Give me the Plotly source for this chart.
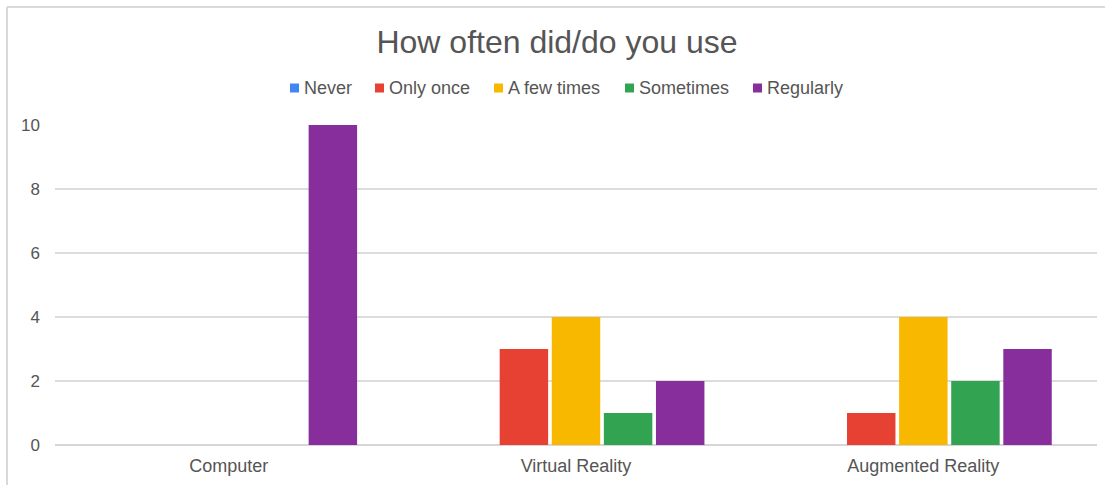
import plotly.graph_objects as go

# Usage frequency counts per technology
categories = ["Computer", "Virtual Reality", "Augmented Reality"]
never = [0, 0, 0]
only_once = [0, 3, 1]
a_few_times = [0, 4, 4]
sometimes = [0, 1, 2]
regularly = [10, 2, 3]

series_names = ["Never", "Only once", "A few times", "Sometimes", "Regularly"]
series_values = [never, only_once, a_few_times, sometimes, regularly]
series_colors = ["#4285F4", "#E64133", "#F9B800", "#32A350", "#872E9C"]

y_ticks = [0, 2, 4, 6, 8, 10]

FONT = "Arial, Liberation Sans, sans-serif"

fig = go.Figure()
for name, vals, color in zip(series_names, series_values, series_colors):
    fig.add_trace(go.Bar(
        x=categories, y=vals, name=name,
        marker=dict(color=color, line=dict(width=0)),
        showlegend=False,
    ))

W, H = 1105, 485
ml, mr, mt, mb = 55, 8, 125, 40
pw, ph = W - ml - mr, H - mt - mb

def px_x(x):
    return (x - ml) / pw

def px_y(y):
    return (H - mb - y) / ph

fig.update_layout(
    width=W, height=H,
    margin=dict(l=ml, r=mr, t=mt, b=mb, pad=0),
    paper_bgcolor="white", plot_bgcolor="white",
    barmode="group", bargap=0.25, bargroupgap=0.07,
    font=dict(family=FONT, color="#444444"),
    title=dict(
        text="How often did/do you use",
        xref="container", x=557 / W, xanchor="center",
        yref="container", y=(H - 42) / H, yanchor="middle",
        font=dict(size=32, color="#555555", family=FONT),
    ),
    xaxis=dict(
        showgrid=False, showline=False, zeroline=False,
        tickfont=dict(size=18, color="#555555"),
        ticklabelstandoff=8,
    ),
    yaxis=dict(
        range=[0, 10], tickvals=y_ticks,
        showgrid=True, gridcolor="#dcdcdc", gridwidth=1.5,
        zeroline=True, zerolinecolor="#d6d6d6", zerolinewidth=2,
        showline=False,
        tickfont=dict(size=17, color="#555555"),
        ticklabelstandoff=14,
    ),
)

# Compact legend row: small colour square followed by its label
legend_left = [290, 375, 494, 625, 753]
legend_cy = 88
sq = 9
for name, color, left in zip(series_names, series_colors, legend_left):
    fig.add_shape(type="rect", xref="paper", yref="paper",
                  x0=px_x(left), x1=px_x(left + sq),
                  y0=px_y(legend_cy + sq / 2), y1=px_y(legend_cy - sq / 2),
                  fillcolor=color, line=dict(width=0))
    fig.add_annotation(text=name, xref="paper", yref="paper",
                       x=px_x(left + sq + 3), y=px_y(legend_cy),
                       xanchor="left", yanchor="middle", showarrow=False,
                       font=dict(size=18, color="#555555", family=FONT))

# Chart frame (left and top edges)
border = dict(type="line", xref="paper", yref="paper",
              line=dict(color="#d9d9d9", width=2))
fig.add_shape(x0=px_x(7), x1=px_x(W + 5), y0=px_y(7), y1=px_y(7), **border)
fig.add_shape(x0=px_x(7), x1=px_x(7), y0=px_y(7), y1=px_y(H + 5), **border)

fig.write_html("out.html")
